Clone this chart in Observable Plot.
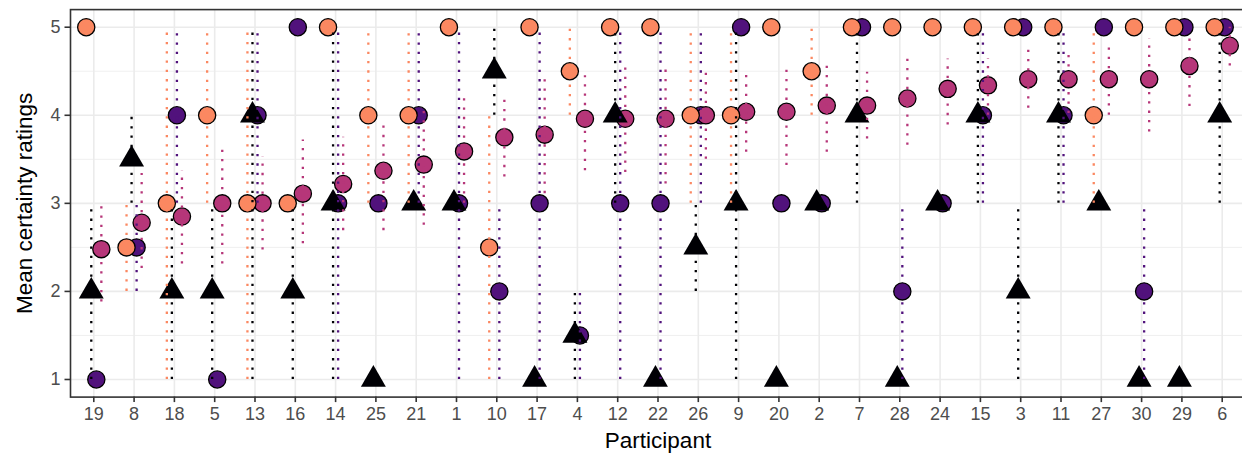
<!DOCTYPE html>
<html>
<head>
<meta charset="utf-8">
<script src="https://cdn.jsdelivr.net/npm/d3@7"></script>
<script src="https://cdn.jsdelivr.net/npm/@observablehq/plot@0.6"></script>
<style>
html, body { margin: 0; padding: 0; background: #fff; overflow: hidden; }
</style>
</head>
<body>
<div id="chart"></div>
<script>
// Participants in plotted order
const participants = ["19","8","18","5","13","16","14","25","21","1","10","17","4","12","22","26","9","20","2","7","28","24","15","3","11","27","30","29","6"];

// Black triangles
const triMean = [2, 3.5, 2, 2, 4, 2, 3, 1, 3, 3, 4.5, 1, 1.5, 4, 1, 2.5, 3, 1, 3, 4, 1, 3, 4, 2, 4, 3, 1, 1, 4];
const triLo   = [1, 3, 1, 1, 1, 1, 1, null, null, null, 4, null, 1, 3, null, 2, 1, null, null, 3, null, null, 3, 1, 3, null, null, null, 3];
const triHi   = [3, 4, 3, 3, 5, 3, 5, null, null, null, 5, null, 2, 5, null, 3, 5, null, null, 5, null, null, 5, 3, 5, null, null, null, 5];

// Orange circles
const orangeMean = [5, 2.5, 3, 4, 3, 3, 5, 4, 4, 5, 2.5, 5, 4.5, 5, 5, 4, 4, 5, 4.5, 5, 5, 5, 5, 5, 5, 4, 5, 5, 5];
const orangeLo   = [null, 2, 1, 3, 1, null, null, 3, 3, null, 1, null, 4, null, null, 3, 3, null, 4, null, null, null, null, null, null, 3, null, null, null];
const orangeHi   = [null, 3, 5, 5, 5, null, null, 5, 5, null, 4, null, 5, null, null, 5, 5, null, 5, null, null, null, null, null, null, 5, null, null, null];

// Purple circles
const purpleMean = [1, 2.5, 4, 1, 4, 5, 3, 3, 4, 3, 2, 3, 1.5, 3, 3, 4, 5, 3, 3, 5, 2, 3, 4, 5, 4, 5, 2, 5, 5];
const purpleLo   = [null, 2, 3, null, 3, null, 1, null, 3, 1, 1, 1, 1, 1, 1, 3, null, null, null, null, 1, null, 3, null, 3, null, 1, null, null];
const purpleHi   = [null, 3, 5, null, 5, null, 5, null, 5, 5, 3, 5, 2, 5, 5, 5, null, null, null, null, 3, null, 5, null, 5, null, 3, null, null];

// Magenta circles
const magentaMean = [2.48, 2.78, 2.85, 3.0, 3.0, 3.11, 3.22, 3.37, 3.44, 3.59, 3.75, 3.78, 3.96, 3.96, 3.96, 4.0, 4.04, 4.04, 4.11, 4.11, 4.19, 4.30, 4.34, 4.41, 4.41, 4.41, 4.41, 4.56, 4.79];
const magentaLo   = [1.88, 2.26, 2.31, 2.31, 2.47, 2.54, 2.69, 2.69, 2.75, 3.0, 3.30, 3.11, 3.37, 3.35, 3.22, 3.50, 3.58, 3.43, 3.58, 3.73, 3.66, 3.89, 4.0, 4.08, 4.02, 4.0, 3.81, 4.10, 4.56];
const magentaHi   = [3.03, 3.34, 3.37, 3.67, 3.53, 3.72, 3.75, 3.89, 4.05, 4.19, 4.19, 4.42, 4.45, 4.57, 4.57, 4.49, 4.49, 4.57, 4.57, 4.49, 4.64, 4.64, 4.64, 4.76, 4.75, 4.80, 4.87, 4.89, 5.0];

const yMajor = [1, 2, 3, 4, 5];
const yMinor = [1.5, 2.5, 3.5, 4.5];

const rows = (mean, lo, hi) => participants.map((p, i) => ({participant: p, mean: mean[i], lo: lo[i], hi: hi[i]}));
const tri = rows(triMean, triLo, triHi);
const orange = rows(orangeMean, orangeLo, orangeHi);
const purple = rows(purpleMean, purpleLo, purpleHi);
const magenta = rows(magentaMean, magentaLo, magentaHi);
const withBar = (d) => d.filter(r => r.lo != null && r.hi != null);

const C_BLACK = "#000004", C_PURPLE = "#51127C", C_MAGENTA = "#B63679", C_ORANGE = "#FB8861";
const OFF_O = -7.56, OFF_B = -2.52, OFF_P = 2.52, OFF_M = 7.56;
const dot = {r: 8.6, stroke: "black", strokeWidth: 1.3};
const bar = {strokeWidth: 2.3, strokeDasharray: "2.3,7", strokeLinecap: "butt"};

const chart = Plot.plot({
  width: 1245,
  height: 455,
  marginLeft: 70,
  marginRight: 0,
  marginTop: 9.1,
  marginBottom: 58.4,
  style: {fontFamily: "'Liberation Sans', Arial, Helvetica, sans-serif", maxWidth: "none", background: "#fff"},
  x: {type: "point", domain: participants, padding: 0.578, round: false},
  y: {domain: [0.8, 5.2]},
  marks: [
    Plot.gridY(yMinor, {stroke: "#EBEBEB", strokeOpacity: 1, strokeWidth: 0.8}),
    Plot.gridY(yMajor, {stroke: "#EBEBEB", strokeOpacity: 1, strokeWidth: 1.6}),
    Plot.gridX({stroke: "#EBEBEB", strokeOpacity: 1, strokeWidth: 1.6}),
    Plot.dot(purple, {x: "participant", y: "mean", fill: C_PURPLE, dx: OFF_P, ...dot}),
    Plot.dot(magenta, {x: "participant", y: "mean", fill: C_MAGENTA, dx: OFF_M, ...dot}),
    Plot.dot(orange, {x: "participant", y: "mean", fill: C_ORANGE, dx: OFF_O, ...dot}),
    Plot.dot(tri, {x: "participant", y: "mean", symbol: "triangle", r: 9.26, fill: C_BLACK, stroke: "none", dx: OFF_B}),
    Plot.ruleX(withBar(orange), {x: "participant", y1: "lo", y2: "hi", stroke: C_ORANGE, dx: OFF_O, ...bar}),
    Plot.ruleX(withBar(tri), {x: "participant", y1: "lo", y2: "hi", stroke: C_BLACK, dx: OFF_B, ...bar}),
    Plot.ruleX(withBar(purple), {x: "participant", y1: "lo", y2: "hi", stroke: C_PURPLE, dx: OFF_P, ...bar}),
    Plot.ruleX(withBar(magenta), {x: "participant", y1: "lo", y2: "hi", stroke: C_MAGENTA, dx: OFF_M, ...bar}),
    Plot.frame({stroke: "#333333", strokeWidth: 1.6}),
    Plot.axisX({tickSize: 5.5, tickPadding: 4.4, fontSize: 18, stroke: "#333333", strokeWidth: 1.6, fill: "#4D4D4D", label: null}),
    Plot.axisY(yMajor, {tickSize: 5.5, tickPadding: 4.4, fontSize: 18, stroke: "#333333", strokeWidth: 1.6, fill: "#4D4D4D", label: null, tickFormat: d3.format("d")}),
    Plot.text(["Participant"], {frameAnchor: "bottom", dy: 44, textAnchor: "middle", lineAnchor: "middle", fontSize: 22.5, fill: "black"}),
    Plot.text(["Mean certainty ratings"], {frameAnchor: "left", dx: -46, rotate: -90, textAnchor: "middle", lineAnchor: "middle", fontSize: 22.5, fill: "black"})
  ]
});
document.getElementById("chart").appendChild(chart);
</script>
</body>
</html>
